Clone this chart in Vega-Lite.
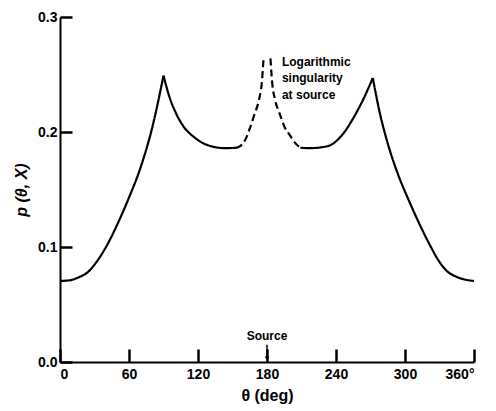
{
  "$schema": "https://vega.github.io/schema/vega-lite/v6.json",
  "width": 414,
  "height": 345,
  "autosize": "none",
  "padding": {"left": 60, "top": 17, "right": 22, "bottom": 49},
  "background": "white",
  "config": {
    "view": {"stroke": null},
    "font": "Liberation Sans",
    "axis": {
      "domainColor": "black", "domainWidth": 2,
      "labelColor": "black", "labelFont": "Liberation Sans", "labelFontWeight": "bold", "labelFontSize": 14,
      "titleColor": "black", "titleFont": "Liberation Sans", "titleFontWeight": "bold", "titleFontSize": 16,
      "grid": false
    }
  },
  "datasets": {
    "curve": [
      {"theta": 0, "p": 0.0705, "seg": "A", "style": "solid"},
      {"theta": 8, "p": 0.071, "seg": "A", "style": "solid"},
      {"theta": 17, "p": 0.074, "seg": "A", "style": "solid"},
      {"theta": 24, "p": 0.078, "seg": "A", "style": "solid"},
      {"theta": 31, "p": 0.086, "seg": "A", "style": "solid"},
      {"theta": 40, "p": 0.1, "seg": "A", "style": "solid"},
      {"theta": 50, "p": 0.12, "seg": "A", "style": "solid"},
      {"theta": 60, "p": 0.143, "seg": "A", "style": "solid"},
      {"theta": 70, "p": 0.169, "seg": "A", "style": "solid"},
      {"theta": 80, "p": 0.203, "seg": "A", "style": "solid"},
      {"theta": 90, "p": 0.249, "seg": "A", "style": "solid"},
      {"theta": 90, "p": 0.249, "seg": "B", "style": "solid"},
      {"theta": 95, "p": 0.231, "seg": "B", "style": "solid"},
      {"theta": 101, "p": 0.216, "seg": "B", "style": "solid"},
      {"theta": 108, "p": 0.204, "seg": "B", "style": "solid"},
      {"theta": 116, "p": 0.196, "seg": "B", "style": "solid"},
      {"theta": 124, "p": 0.1905, "seg": "B", "style": "solid"},
      {"theta": 132, "p": 0.1875, "seg": "B", "style": "solid"},
      {"theta": 142, "p": 0.186, "seg": "B", "style": "solid"},
      {"theta": 153, "p": 0.1862, "seg": "B", "style": "solid"},
      {"theta": 153, "p": 0.1862, "seg": "C", "style": "dashed"},
      {"theta": 157, "p": 0.188, "seg": "C", "style": "dashed"},
      {"theta": 161, "p": 0.193, "seg": "C", "style": "dashed"},
      {"theta": 165, "p": 0.203, "seg": "C", "style": "dashed"},
      {"theta": 169, "p": 0.215, "seg": "C", "style": "dashed"},
      {"theta": 173, "p": 0.228, "seg": "C", "style": "dashed"},
      {"theta": 175.5, "p": 0.243, "seg": "C", "style": "dashed"},
      {"theta": 177, "p": 0.264, "seg": "C", "style": "dashed"},
      {"theta": 183, "p": 0.264, "seg": "D", "style": "dashed"},
      {"theta": 184.5, "p": 0.243, "seg": "D", "style": "dashed"},
      {"theta": 187, "p": 0.228, "seg": "D", "style": "dashed"},
      {"theta": 191, "p": 0.216, "seg": "D", "style": "dashed"},
      {"theta": 195, "p": 0.205, "seg": "D", "style": "dashed"},
      {"theta": 200, "p": 0.197, "seg": "D", "style": "dashed"},
      {"theta": 204, "p": 0.191, "seg": "D", "style": "dashed"},
      {"theta": 209, "p": 0.1865, "seg": "D", "style": "dashed"},
      {"theta": 209, "p": 0.1862, "seg": "E", "style": "solid"},
      {"theta": 218, "p": 0.186, "seg": "E", "style": "solid"},
      {"theta": 228, "p": 0.1868, "seg": "E", "style": "solid"},
      {"theta": 236, "p": 0.189, "seg": "E", "style": "solid"},
      {"theta": 245, "p": 0.197, "seg": "E", "style": "solid"},
      {"theta": 255, "p": 0.212, "seg": "E", "style": "solid"},
      {"theta": 264, "p": 0.229, "seg": "E", "style": "solid"},
      {"theta": 272, "p": 0.247, "seg": "E", "style": "solid"},
      {"theta": 272, "p": 0.247, "seg": "F", "style": "solid"},
      {"theta": 278, "p": 0.217, "seg": "F", "style": "solid"},
      {"theta": 285, "p": 0.19, "seg": "F", "style": "solid"},
      {"theta": 294, "p": 0.163, "seg": "F", "style": "solid"},
      {"theta": 304, "p": 0.139, "seg": "F", "style": "solid"},
      {"theta": 314, "p": 0.117, "seg": "F", "style": "solid"},
      {"theta": 322, "p": 0.101, "seg": "F", "style": "solid"},
      {"theta": 329, "p": 0.0885, "seg": "F", "style": "solid"},
      {"theta": 336, "p": 0.0795, "seg": "F", "style": "solid"},
      {"theta": 345, "p": 0.074, "seg": "F", "style": "solid"},
      {"theta": 353, "p": 0.0715, "seg": "F", "style": "solid"},
      {"theta": 360, "p": 0.0705, "seg": "F", "style": "solid"}
    ],
    "notes": [
      {"theta": 193, "p": 0.261, "label": ["Logarithmic", "singularity", "at source"]}
    ],
    "source": [
      {"theta": 180, "p": 0.0225, "p0": 0.015, "p1": 0.003, "label": "Source"}
    ]
  },
  "layer": [
    {
      "data": {"name": "curve"},
      "mark": {"type": "line", "interpolate": "monotone", "color": "black", "strokeWidth": 2.2},
      "encoding": {
        "x": {
          "field": "theta", "type": "quantitative",
          "scale": {"domain": [0, 360], "nice": false},
          "axis": {
            "values": [0, 60, 120, 180, 240, 300, 360],
            "ticks": true, "tickSize": -13, "tickColor": "black", "tickWidth": 2.5, "labelPadding": 18,
            "labelExpr": "datum.value == 360 ? '360°' : datum.label",
            "title": "θ (deg)", "titlePadding": 6
          }
        },
        "y": {
          "field": "p", "type": "quantitative",
          "scale": {"domain": [0, 0.3], "nice": false},
          "axis": {
            "values": [0, 0.1, 0.2, 0.3], "format": ".1f",
            "ticks": true, "tickSize": -12, "tickColor": "black", "tickWidth": 2.5, "labelPadding": 15,
            "title": "p (θ, X)", "titlePadding": 8, "titleFontStyle": "italic"
          }
        },
        "detail": {"field": "seg"},
        "strokeDash": {
          "field": "style", "type": "nominal",
          "scale": {"domain": ["solid", "dashed"], "range": [[1, 0], [7, 4]]},
          "legend": null
        }
      }
    },
    {
      "data": {"name": "notes"},
      "mark": {"type": "text", "align": "left", "baseline": "middle", "fontSize": 12, "fontWeight": "bold", "lineHeight": 16.5, "color": "black", "font": "Liberation Sans"},
      "encoding": {
        "x": {"field": "theta", "type": "quantitative"},
        "y": {"field": "p", "type": "quantitative"},
        "text": {"field": "label"}
      }
    },
    {
      "data": {"name": "source"},
      "mark": {"type": "text", "align": "center", "baseline": "middle", "fontSize": 12, "fontWeight": "bold", "color": "black", "font": "Liberation Sans"},
      "encoding": {
        "x": {"field": "theta", "type": "quantitative"},
        "y": {"field": "p", "type": "quantitative"},
        "text": {"field": "label"}
      }
    },
    {
      "data": {"name": "source"},
      "mark": {"type": "rule", "color": "black", "strokeWidth": 1.5},
      "encoding": {
        "x": {"field": "theta", "type": "quantitative"},
        "y": {"field": "p0", "type": "quantitative"},
        "y2": {"field": "p1"}
      }
    },
    {
      "data": {"name": "source"},
      "mark": {"type": "point", "shape": "triangle-down", "filled": true, "color": "black", "size": 22, "opacity": 1},
      "encoding": {
        "x": {"field": "theta", "type": "quantitative"},
        "y": {"field": "p1", "type": "quantitative"}
      }
    }
  ]
}
